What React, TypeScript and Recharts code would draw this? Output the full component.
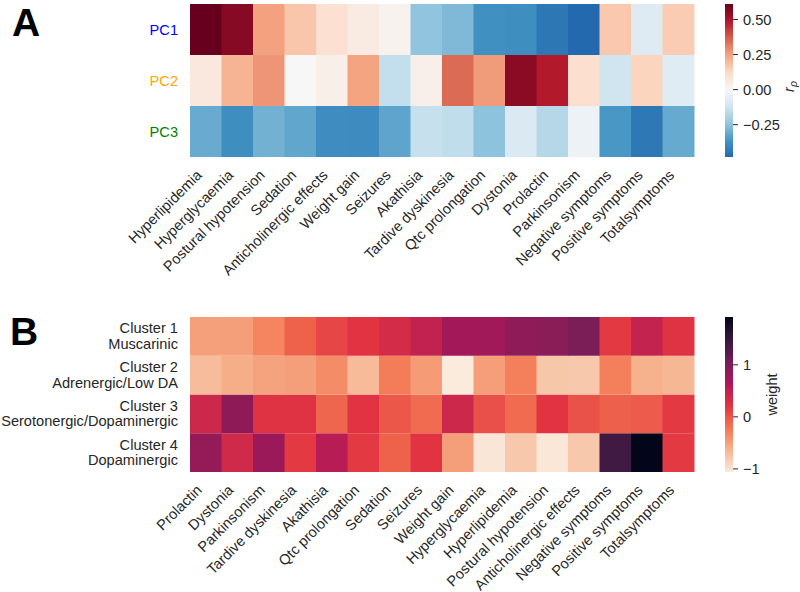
import React from "react";
import { BarChart, Bar, XAxis, YAxis, Cell } from "recharts";

// ---- panel A: Spearman correlation of PCs with side effects ----
const symptomsA = [
  "Hyperlipidemia", "Hyperglycaemia", "Postural hypotension", "Sedation",
  "Anticholinergic effects", "Weight gain", "Seizures", "Akathisia",
  "Tardive dyskinesia", "Qtc prolongation", "Dystonia", "Prolactin",
  "Parkinsonism", "Negative symptoms", "Positive symptoms", "Totalsymptoms",
];
const pc1 = [0.61, 0.56, 0.25, 0.17, 0.095, 0.054, 0.02, -0.246, -0.274, -0.375, -0.38, -0.441, -0.48, 0.166, -0.081, 0.155];
const pc2 = [0.064, 0.211, 0.272, 0.0, 0.036, 0.246, -0.149, 0.033, 0.347, 0.26, 0.552, 0.487, 0.104, -0.123, 0.136, -0.075];
const pc3 = [-0.308, -0.38, -0.292, -0.32, -0.381, -0.385, -0.325, -0.142, -0.154, -0.25, -0.091, -0.176, -0.036, -0.356, -0.44, -0.31];
const pcNames = ["PC1", "PC2", "PC3"];
const pcColors = ["#0000ff", "#ffa500", "#008000"];
const rhoTicks = [-0.25, 0, 0.25, 0.5];

// ---- panel B: cluster weights ----
const symptomsB = [
  "Prolactin", "Dystonia", "Parkinsonism", "Tardive dyskinesia", "Akathisia",
  "Qtc prolongation", "Sedation", "Seizures", "Weight gain", "Hyperglycaemia",
  "Hyperlipidemia", "Postural hypotension", "Anticholinergic effects",
  "Negative symptoms", "Positive symptoms", "Totalsymptoms",
];
const cluster1 = [-0.5, -0.49, -0.31, -0.08, 0.09, 0.22, 0.33, 0.47, 0.71, 0.73, 0.85, 0.89, 0.99, 0.18, 0.46, 0.23];
const cluster2 = [-0.7, -0.59, -0.52, -0.49, -0.36, -0.69, -0.26, -0.46, -1.06, -0.48, -0.28, -0.78, -0.79, -0.28, -0.62, -0.66];
const cluster3 = [0.39, 0.86, 0.23, 0.23, -0.11, 0.22, -0.02, -0.14, 0.39, 0.03, -0.14, 0.22, 0.02, -0.07, -0.04, 0.18];
const cluster4 = [0.81, 0.36, 0.77, 0.18, 0.56, 0.18, -0.08, 0.22, -0.49, -1.02, -0.79, -1.03, -0.79, 1.41, 1.92, 0.18];
const clusterNames = [
  ["Cluster 1", "Muscarinic"],
  ["Cluster 2", "Adrenergic/Low DA"],
  ["Cluster 3", "Serotonergic/Dopaminergic"],
  ["Cluster 4", "Dopaminergic"],
];
const weightTicks = [-1, 0, 1];

const FONT = "'Liberation Sans', Arial, sans-serif";
const TEXT = "#262626";
const FS = 14.6;

// colormaps
const hex = (h: string) => [1, 3, 5].map((i) => parseInt(h.slice(i, i + 2), 16));
function makeCmap(stops: [number, string][]) {
  const s = stops.map(([p, c]) => [p, hex(c)] as [number, number[]]);
  return (t: number) => {
    const v = Math.max(0, Math.min(1, t));
    let i = 0;
    while (i < s.length - 2 && v > s[i + 1][0]) i++;
    const [p0, c0] = s[i];
    const [p1, c1] = s[i + 1];
    const f = (v - p0) / (p1 - p0);
    const c = c0.map((a, k) => Math.round(a + (c1[k] - a) * f));
    return `rgb(${c[0]},${c[1]},${c[2]})`;
  };
}
const rdbuR = makeCmap([
  [0, "#053061"], [0.1, "#2166ac"], [0.2, "#4393c3"], [0.3, "#92c5de"],
  [0.4, "#d1e5f0"], [0.5, "#f7f7f7"], [0.6, "#fddbc7"], [0.7, "#f4a582"],
  [0.8, "#d6604d"], [0.9, "#b2182b"], [1, "#67001f"],
]);
const rocketR = makeCmap([
  [0, "#faebdd"], [1 / 7, "#f6b48f"], [2 / 7, "#f37651"], [3 / 7, "#e13342"],
  [4 / 7, "#ad1759"], [5 / 7, "#701f57"], [6 / 7, "#35193e"], [1, "#03051a"],
]);

const allA = [...pc1, ...pc2, ...pc3];
const minA = Math.min(...allA);
const maxA = Math.max(...allA);
const halfA = Math.max(Math.abs(minA), Math.abs(maxA));
const colorA = (v: number) => rdbuR((v + halfA) / (2 * halfA));

const allB = [...cluster1, ...cluster2, ...cluster3, ...cluster4];
const minB = Math.min(...allB);
const maxB = Math.max(...allB);
const colorB = (v: number) => rocketR((v - minB) / (maxB - minB));

const rowsA = symptomsA.map((name, i) => ({ name, PC1: pc1[i], PC2: pc2[i], PC3: pc3[i] }));
const rowsB = symptomsB.map((name, i) => ({
  name, c1: cluster1[i], c2: cluster2[i], c3: cluster3[i], c4: cluster4[i],
}));

const gradStops = Array.from({ length: 41 }, (_, i) => i / 40);

function XTick({ x, y, payload }: any) {
  return (
    <g transform={`translate(${x - 3},${y + 19})`}>
      <text textAnchor="end" transform="rotate(-45)" fontSize={FS} fill={TEXT} fontFamily={FONT}>
        {payload.value}
      </text>
    </g>
  );
}

function PcTick({ x, y, payload }: any) {
  const idx = 2 - Math.floor(payload.value);
  return (
    <text x={x} y={y + 5} textAnchor="end" fontSize={FS} fill={pcColors[idx]} fontFamily={FONT}>
      {pcNames[idx]}
    </text>
  );
}

function ClusterTick({ x, y, payload }: any) {
  const idx = 3 - Math.floor(payload.value);
  const [a, b] = clusterNames[idx];
  return (
    <text textAnchor="end" fontSize={FS} fill={TEXT} fontFamily={FONT}>
      <tspan x={x} y={y - 3}>{a}</tspan>
      <tspan x={x} y={y + 12.5}>{b}</tspan>
    </text>
  );
}

function RhoLabel({ viewBox }: any) {
  const x = viewBox.x + viewBox.width - 6;
  const y = viewBox.y + viewBox.height / 2 + 6;
  return (
    <text transform={`translate(${x},${y}) rotate(-90)`} textAnchor="middle" fontSize={FS} fill={TEXT} fontFamily={FONT}>
      <tspan fontStyle="italic">r</tspan>
      <tspan fontStyle="italic" fontSize={10.5} dy={3}>ρ</tspan>
    </text>
  );
}

function WeightLabel({ viewBox }: any) {
  const x = viewBox.x + 44;
  const y = viewBox.y + viewBox.height / 2;
  return (
    <text transform={`translate(${x},${y}) rotate(-90)`} textAnchor="middle" fontSize={FS} fill={TEXT} fontFamily={FONT}>
      weight
    </text>
  );
}

const fmtA = (v: number) => v.toFixed(2).replace("-", "\u2212");
const fmtB = (v: number) => String(v).replace("-", "\u2212");

export default function App() {
  const pos = (left: number, top: number, w: number, h: number): React.CSSProperties => ({
    position: "absolute", left, top, width: w, height: h,
  });
  return (
    <div style={{ position: "absolute", left: 0, top: 0, width: 800, height: 592, background: "#fff", fontFamily: FONT }}>
      <div style={{ ...pos(12, 3, 50, 45), fontSize: 39, fontWeight: "bold", lineHeight: 1, color: "#000" }}>A</div>
      <div style={{ ...pos(10, 312, 50, 45), fontSize: 39, fontWeight: "bold", lineHeight: 1, color: "#000" }}>B</div>

      {/* panel A heatmap */}
      <div style={pos(0, 0, 800, 277)}>
        <BarChart width={800} height={277} data={rowsA} barCategoryGap={0}
          margin={{ top: 4, right: 106, left: 0, bottom: 0 }}>
          <XAxis dataKey="name" interval={0} height={120} tick={<XTick />}
            tickLine={false} axisLine={false} tickSize={0} tickMargin={0} />
          <YAxis type="number" domain={[0, 3]} ticks={[0.5, 1.5, 2.5]} width={190}
            tick={<PcTick />} tickLine={false} axisLine={false} tickSize={0} tickMargin={12} />
          {(["PC3", "PC2", "PC1"] as const).map((k) => (
            <Bar key={k} dataKey={() => 1} stackId="a" isAnimationActive={false}>
              {rowsA.map((r, i) => (
                <Cell key={i} fill={colorA(r[k])} />
              ))}
            </Bar>
          ))}
        </BarChart>
      </div>

      {/* panel A colorbar */}
      <div style={pos(725, 0, 75, 277)}>
        <BarChart width={75} height={277} data={[{ name: "cb", lo: minA, hi: maxA }]} barCategoryGap={0}
          margin={{ top: 4, right: 0, left: 0, bottom: 120 }}>
          <defs>
            <linearGradient id="gradA" x1="0" y1="0" x2="0" y2="1">
              {gradStops.map((o) => (
                <stop key={o} offset={o} stopColor={colorA(maxA - o * (maxA - minA))} />
              ))}
            </linearGradient>
          </defs>
          <XAxis dataKey="name" hide />
          <YAxis orientation="right" type="number" domain={[minA, maxA]} ticks={rhoTicks}
            allowDataOverflow width={67} tickFormatter={fmtA} axisLine={false}
            tickSize={5} tickMargin={5} tickLine={{ stroke: TEXT }}
            tick={{ fontSize: FS, fill: TEXT, fontFamily: FONT }} label={<RhoLabel />} />
          <Bar dataKey={(d: any) => [d.lo, d.hi]} fill="url(#gradA)" isAnimationActive={false} />
        </BarChart>
      </div>

      {/* panel B heatmap */}
      <div style={pos(0, 300, 800, 292)}>
        <BarChart width={800} height={292} data={rowsB} barCategoryGap={0}
          margin={{ top: 17, right: 106, left: 0, bottom: 0 }}>
          <XAxis dataKey="name" interval={0} height={120} tick={<XTick />}
            tickLine={false} axisLine={false} tickSize={0} tickMargin={0} />
          <YAxis type="number" domain={[0, 4]} ticks={[0.5, 1.5, 2.5, 3.5]} width={190}
            tick={<ClusterTick />} tickLine={false} axisLine={false} tickSize={0} tickMargin={12} />
          {(["c4", "c3", "c2", "c1"] as const).map((k) => (
            <Bar key={k} dataKey={() => 1} stackId="b" isAnimationActive={false}>
              {rowsB.map((r, i) => (
                <Cell key={i} fill={colorB(r[k])} />
              ))}
            </Bar>
          ))}
        </BarChart>
      </div>

      {/* panel B colorbar */}
      <div style={pos(725, 300, 75, 292)}>
        <BarChart width={75} height={292} data={[{ name: "cb", lo: minB, hi: maxB }]} barCategoryGap={0}
          margin={{ top: 17, right: 0, left: 0, bottom: 120 }}>
          <defs>
            <linearGradient id="gradB" x1="0" y1="0" x2="0" y2="1">
              {gradStops.map((o) => (
                <stop key={o} offset={o} stopColor={colorB(maxB - o * (maxB - minB))} />
              ))}
            </linearGradient>
          </defs>
          <XAxis dataKey="name" hide />
          <YAxis orientation="right" type="number" domain={[minB, maxB]} ticks={weightTicks}
            allowDataOverflow width={67} tickFormatter={fmtB} axisLine={false}
            tickSize={5} tickMargin={5} tickLine={{ stroke: TEXT }}
            tick={{ fontSize: FS, fill: TEXT, fontFamily: FONT }} label={<WeightLabel />} />
          <Bar dataKey={(d: any) => [d.lo, d.hi]} fill="url(#gradB)" isAnimationActive={false} />
        </BarChart>
      </div>
    </div>
  );
}
